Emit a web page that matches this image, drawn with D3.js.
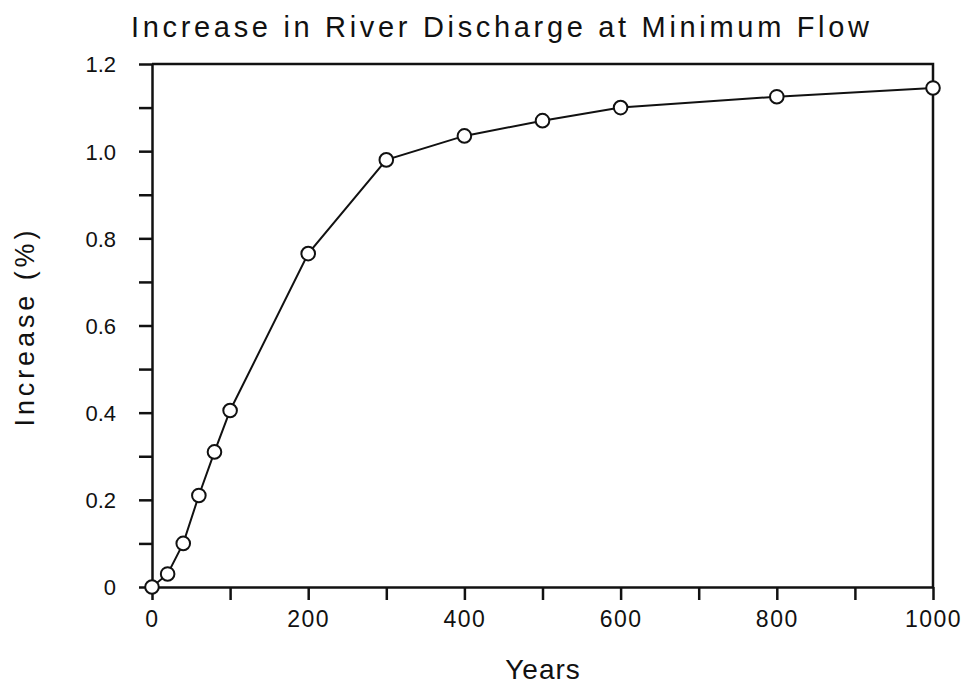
<!DOCTYPE html>
<html>
<head>
<meta charset="utf-8">
<script src="https://cdn.jsdelivr.net/npm/d3@7"></script>
<style>
  body { margin: 0; background: #fff; }
  text { font-family: "Liberation Sans", Arial, sans-serif; fill: #111; }
</style>
</head>
<body>
<script>
// values
var years = [0, 20, 40, 60, 80, 100, 200, 300, 400, 500, 600, 800, 1000];
var increase = [0, 0.03, 0.10, 0.21, 0.31, 0.405, 0.765, 0.98, 1.035, 1.07, 1.10, 1.125, 1.145];
var xTicks = [0, 100, 200, 300, 400, 500, 600, 700, 800, 900, 1000];
var yTicks = [0, 0.1, 0.2, 0.3, 0.4, 0.5, 0.6, 0.7, 0.8, 0.9, 1.0, 1.1, 1.2];

var width = 969, height = 686;
var mLeft = 152, mRight = 933, mTop = 64, mBottom = 587;

var svg = d3.select("body").append("svg")
    .attr("width", width)
    .attr("height", height);

var x = d3.scaleLinear().domain([0, 1000]).range([mLeft, mRight]);
var y = d3.scaleLinear().domain([0, 1.2]).range([mBottom, mTop]);

var points = years.map((d, i) => ({year: d, value: increase[i]}));

// frame: top and right edges
svg.append("path")
    .attr("d", "M" + mLeft + "," + y(1.2) + "H" + x(1000) + "V" + y(0))
    .attr("fill", "none")
    .attr("stroke", "#111")
    .attr("stroke-width", 2.5);

var xAxis = svg.append("g")
    .attr("transform", "translate(0," + mBottom + ")")
    .call(d3.axisBottom(x)
      .tickValues(xTicks)
      .tickSize(13)
      .tickSizeOuter(0)
      .tickPadding(11)
      .tickFormat(d => d % 200 === 0 ? d : ""));

var yAxis = svg.append("g")
    .attr("transform", "translate(" + mLeft + ",0)")
    .call(d3.axisLeft(y)
      .tickValues(yTicks)
      .tickSize(13)
      .tickSizeOuter(0)
      .tickPadding(23)
      .tickFormat(d => {
        var k = Math.round(d * 10);
        if (k % 2 !== 0) return "";
        return k === 0 ? "0" : d3.format(".1f")(d);
      }));

[xAxis, yAxis].forEach(g => {
  g.select(".domain").attr("stroke", "#111").attr("stroke-width", 2.5);
  g.selectAll(".tick line").attr("stroke", "#111").attr("stroke-width", 2.5);
  g.selectAll(".tick text")
    .attr("fill", "#111")
    .style("font-family", "'Liberation Sans', Arial, sans-serif");
});
xAxis.selectAll(".tick text").style("font-size", "23px").style("letter-spacing", "1.5px");
yAxis.selectAll(".tick text").style("font-size", "22px").attr("dy", "0.36em");

var line = d3.line()
    .x(d => x(d.year))
    .y(d => y(d.value));

svg.append("path")
    .datum(points)
    .attr("d", line)
    .attr("fill", "none")
    .attr("stroke", "#111")
    .attr("stroke-width", 2);

svg.selectAll("circle")
    .data(points)
  .enter().append("circle")
    .attr("cx", d => x(d.year))
    .attr("cy", d => y(d.value))
    .attr("r", 6.8)
    .attr("fill", "#fff")
    .attr("stroke", "#111")
    .attr("stroke-width", 2);

// title and axis titles
svg.append("text")
    .attr("x", 500)
    .attr("y", 37)
    .attr("text-anchor", "middle")
    .attr("textLength", 738)
    .attr("lengthAdjust", "spacing")
    .style("font-size", "29px")
    .text("Increase in River Discharge at Minimum Flow");

svg.append("text")
    .attr("x", 543)
    .attr("y", 679)
    .attr("text-anchor", "middle")
    .style("font-size", "28px")
    .style("letter-spacing", "1px")
    .text("Years");

svg.append("text")
    .attr("transform", "translate(34," + ((mTop + mBottom) / 2 + 3) + ") rotate(-90)")
    .attr("text-anchor", "middle")
    .attr("textLength", 196)
    .attr("lengthAdjust", "spacing")
    .style("font-size", "27px")
    .text("Increase (%)");
</script>
</body>
</html>
